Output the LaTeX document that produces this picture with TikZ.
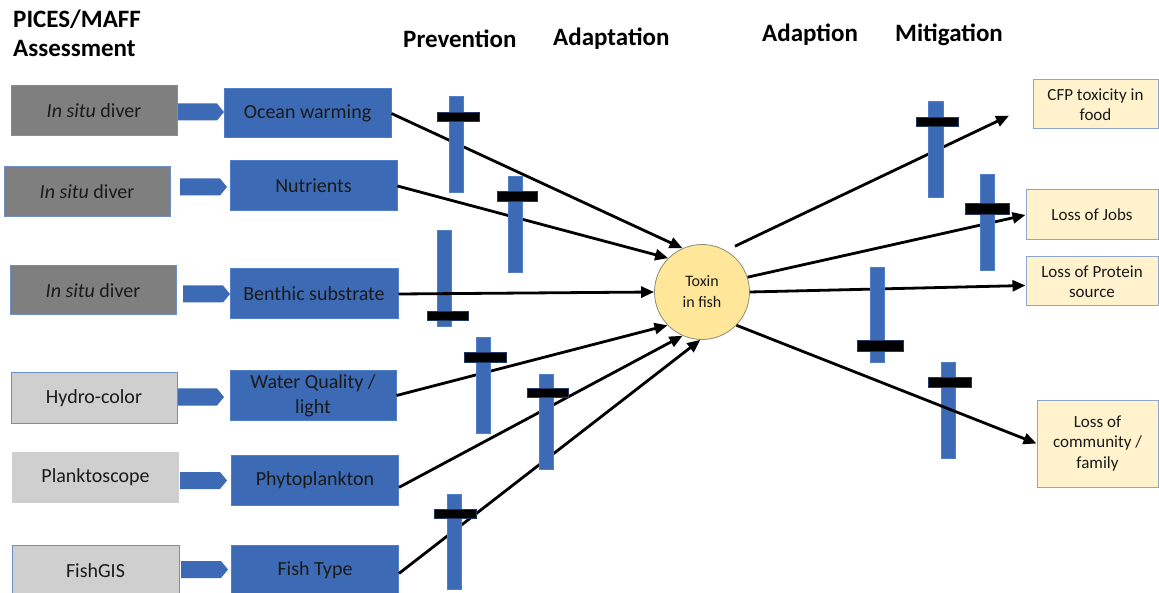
\documentclass[tikz,border=0pt]{standalone}
\usepackage{fontspec}
\setmainfont{Carlito}
\usetikzlibrary{arrows.meta}

\definecolor{drvblue}{HTML}{3C6AB4}
\definecolor{drvedge}{HTML}{4F7FC9}
\definecolor{darkbox}{HTML}{7F7F7F}
\definecolor{lightbox}{HTML}{CFCFCF}
\definecolor{boxedge}{HTML}{6E8FC4}
\definecolor{outfill}{HTML}{FFF2CC}
\definecolor{outedge}{HTML}{8FA6CC}
\definecolor{toxfill}{HTML}{FFE699}
\definecolor{toxedge}{HTML}{8C8A78}
\definecolor{ink}{HTML}{1A1A1A}
\definecolor{crossedge}{HTML}{203864}

% a blue block arrow from x0 to x1, centred on y
\newcommand\drawchev[3]{%
  \fill[drvblue] (#1,#3-8.5) -- (#2-7,#3-8.5) -- (#2,#3) -- (#2-7,#3+8.5) -- (#1,#3+8.5) -- cycle;}
% a vertical bar: x-left, x-right, top, bottom, then crossbar x-left, x-right, top, bottom
\newcommand\drawgauge[8]{%
  \filldraw[barbody] (#1,#3) rectangle (#2,#4);
  \filldraw[crossbar] (#5,#7) rectangle (#6,#8);}

\tikzset{
  assess/.style={draw=boxedge, line width=1pt, inner sep=0pt, text=ink,
    minimum width=166pt, minimum height=50pt, font=\fontsize{20}{24}\selectfont},
  assessdark/.style={assess, fill=darkbox},
  assesslight/.style={assess, fill=lightbox},
  driver/.style={draw=drvedge, line width=1pt, fill=drvblue, inner sep=0pt, text=ink,
    minimum width=167pt, minimum height=50pt, align=center,
    font=\fontsize{20}{25}\selectfont},
  outcome/.style={draw=outedge, line width=1pt, fill=outfill, inner sep=0pt, text=ink,
    align=center, font=\fontsize{17}{20.5}\selectfont},
  heading/.style={inner sep=0pt, anchor=base west, text=black,
    font=\fontsize{25}{29}\selectfont\bfseries},
  link/.style={line width=2.8pt, -{Triangle[length=13pt,width=11pt]}},
  barbody/.style={fill=drvblue, draw=drvedge, line width=0.8pt},
  crossbar/.style={fill=black, draw=crossedge, line width=0.8pt},
}

\begin{document}
\begin{tikzpicture}[x=1pt, y=-1pt]
\useasboundingbox (0,0) rectangle (1159,593);

% headings
\node[heading, anchor=north west, align=left] (hpices) at (13,10) {PICES/MAFF\\Assessment};
\node[heading] (hprev) at (403,48) {Prevention};
\node[heading] (hadapt) at (553,46) {Adaptation};
\node[heading] (hadapt2) at (762,42) {Adaption};
\node[heading] (hmitig) at (895,42) {Mitigation};

% assessment sources
\node[assessdark] (a1) at (94,111) {\textit{In situ} diver};
\node[assessdark] (a2) at (87,192) {\textit{In situ} diver};
\node[assessdark, minimum height=49pt] (a3) at (93,290.5) {\textit{In situ} diver};
\node[assesslight] (a4) at (94,398) {Hydro-color};
\node[assesslight, draw=none, minimum width=167pt, minimum height=51pt] (a5) at (95.5,477.5) {Planktoscope};
\node[assesslight, minimum width=167pt, minimum height=51pt] (a6) at (95.5,570.5) {FishGIS};

% drivers
\node[driver, minimum height=49pt] (d1) at (307.5,113.5) {Ocean warming};
\node[driver] (d2) at (313.5,186) {Nutrients};
\node[driver, minimum width=168pt] (d3) at (314,294) {Benthic substrate};
\node[driver, minimum width=166pt, minimum height=49pt] (d4) at (313,395.5) {Water Quality /\\light};
\node[driver] (d5) at (315,480) {Phytoplankton};
\node[driver, minimum height=51pt] (d6) at (315,570.5) {Fish Type};

% block arrows from sources to drivers
\drawchev{178}{224}{112}
\drawchev{180}{227}{187}
\drawchev{183}{230}{294}
\drawchev{178}{224}{397}
\drawchev{180}{227}{480.5}
\drawchev{181}{228}{569.5}

% central node
\node[circle, draw=toxedge, line width=0.8pt, fill=toxfill, minimum size=95pt, inner sep=0pt,
  align=center, text=ink, font=\fontsize{16}{21}\selectfont] (tox) at (702,292) {Toxin\\in fish};

% outcomes
\node[outcome, minimum width=125pt, minimum height=49pt] (o1) at (1095.5,104.5) {CFP toxicity in\\food};
\node[outcome, minimum width=132pt, minimum height=50pt] (o2) at (1092,215) {Loss of Jobs};
\node[outcome, minimum width=132pt, minimum height=49pt] (o3) at (1092,281.5) {Loss of Protein\\source};
\node[outcome, minimum width=121pt, minimum height=87pt] (o4) at (1097.5,443.5) {Loss of\\community /\\family};

% links into the toxin node
\draw[link] (d1.east) -- (tox.114);
\draw[link] (d2.east) -- (tox.135);
\draw[link] (d4.east) -- (tox.224);
\draw[link] (d5.-5.5) -- (tox.246);
\draw[link] (d6.-2) -- (tox.268);

% links out of the toxin node
\draw[link, shorten <=10pt, shorten >=26pt] (tox.60) -- (o1.west);
\draw[link] (tox.18) -- (o2.west);
\draw[link] (tox.0) -- ([yshift=-4pt]o3.west);

% intervention gauges
\drawgauge{449}{463}{96}{192}{437}{479}{112}{121}
\drawgauge{508}{522}{176}{272}{497}{537}{191}{201}
\drawgauge{437}{451}{230}{326}{427}{468}{311}{320}
\drawgauge{476}{490}{337}{433}{464}{506}{352}{362}
\drawgauge{539}{553}{374}{469}{527}{568}{388}{397}
\drawgauge{447}{461}{494}{589}{434}{476}{509}{518}
\drawgauge{928}{943}{101}{197}{916}{958}{117}{126}
\drawgauge{980}{994}{174}{270}{965}{1009}{203}{214}
\drawgauge{870}{884}{267}{362}{857}{903}{340}{351}
\drawgauge{941}{955}{362}{458}{928}{971}{377}{387}

% links drawn over the gauges
\draw[link] (d3.east) -- (tox.west);
\draw[link] (tox.316) -- (o4.west);
\end{tikzpicture}
\end{document}
